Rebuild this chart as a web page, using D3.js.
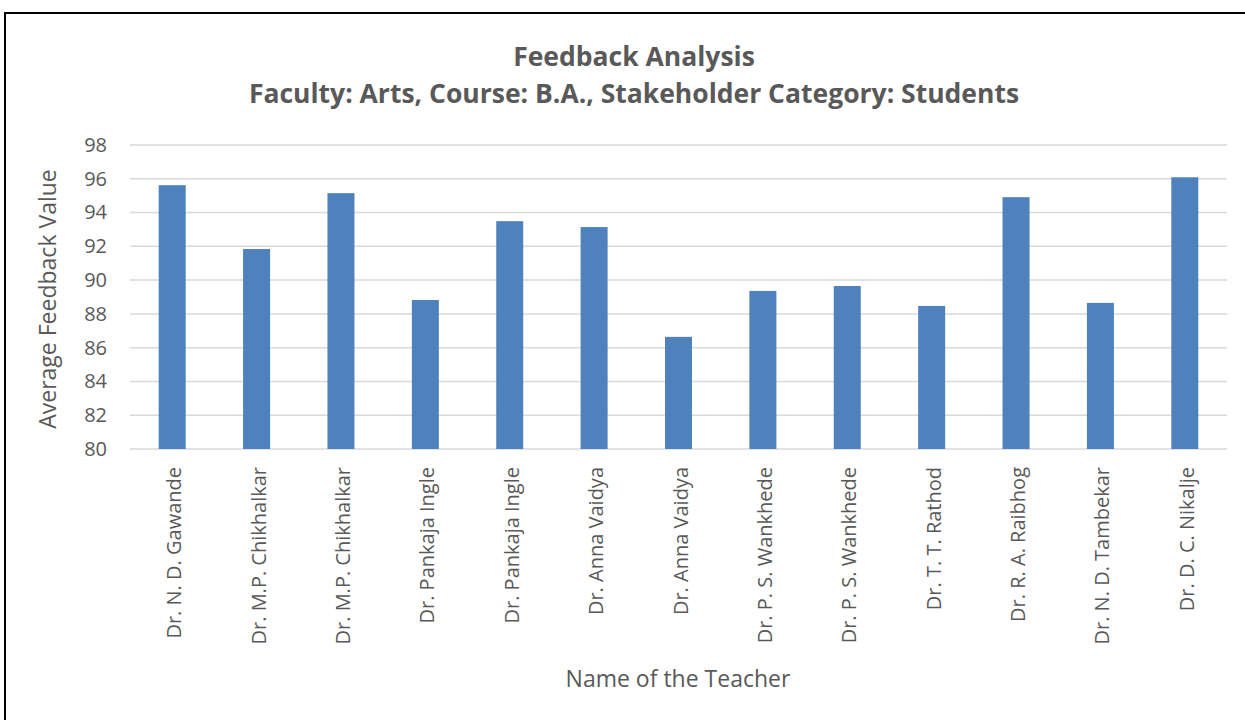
<!DOCTYPE html>
<html>
<head>
<meta charset="utf-8">
<script src="https://cdn.jsdelivr.net/npm/d3@7"></script>
<style>
  body { margin: 0; background: #fff; }
  text { font-family: "Open Sans", sans-serif; }
</style>
</head>
<body>
<div id="chart"></div>
<script>
var teachers = [
  "Dr. N. D. Gawande", "Dr. M.P. Chikhalkar", "Dr. M.P. Chikhalkar", "Dr. Pankaja Ingle",
  "Dr. Pankaja Ingle", "Dr. Anna Vaidya", "Dr. Anna Vaidya", "Dr. P. S. Wankhede",
  "Dr. P. S. Wankhede", "Dr. T. T. Rathod", "Dr. R. A. Raibhog", "Dr. N. D. Tambekar",
  "Dr. D. C. Nikalje"
];
var feedbackValues = [95.62, 91.84, 95.15, 88.82, 93.49, 93.14, 86.64, 89.36, 89.65, 88.47, 94.91, 88.65, 96.09];
var yTicks = [80, 82, 84, 86, 88, 90, 92, 94, 96, 98];

var W = 1245, H = 720;
var plotLeft = 130, plotRight = 1227, plotTop = 145, plotBottom = 449;

var svg = d3.select("#chart").append("svg").attr("width", W).attr("height", H);

// outer frame
svg.append("rect").attr("x", 5).attr("y", 13).attr("width", W + 20).attr("height", H + 20)
  .attr("fill", "none").attr("stroke", "#000").attr("stroke-width", 2);

var x = d3.scaleBand().domain(d3.range(teachers.length)).range([plotLeft, plotRight]).paddingInner(0.68).paddingOuter(0.34);
var y = d3.scaleLinear().domain([80, 98]).range([plotBottom, plotTop]);

// gridlines
svg.append("g").selectAll("line").data(yTicks).join("line")
  .attr("x1", plotLeft).attr("x2", plotRight)
  .attr("y1", function (d) { return y(d); }).attr("y2", function (d) { return y(d); })
  .attr("stroke", "#d9d9d9").attr("stroke-width", 1.5);

// bars
svg.append("g").selectAll("rect").data(feedbackValues).join("rect")
  .attr("x", function (d, i) { return x(i); })
  .attr("width", x.bandwidth())
  .attr("y", function (d) { return y(d); })
  .attr("height", function (d) { return y(80) - y(d); })
  .attr("fill", "#4f81bd");

// y axis
var yAxis = svg.append("g").attr("transform", "translate(" + plotLeft + ",0)")
  .call(d3.axisLeft(y).tickValues(yTicks).tickSize(0).tickPadding(23));
yAxis.select(".domain").remove();
yAxis.selectAll("text").attr("font-size", 20).attr("fill", "#595959").attr("font-family", "Open Sans");

// x axis
var xAxis = svg.append("g").attr("transform", "translate(0," + plotBottom + ")")
  .call(d3.axisBottom(x).tickFormat(function (i) { return teachers[i]; }).tickSize(0));
xAxis.select(".domain").remove();
xAxis.selectAll("text")
  .attr("font-size", 20).attr("fill", "#595959").attr("font-family", "Open Sans")
  .attr("transform", "rotate(-90)")
  .attr("text-anchor", "end")
  .attr("x", -18).attr("y", 2).attr("dy", "0.35em");

// titles
svg.append("text").attr("x", 634).attr("y", 66).attr("text-anchor", "middle")
  .attr("font-size", 26.5).attr("font-weight", "bold").attr("fill", "#595959")
  .text("Feedback Analysis");
svg.append("text").attr("x", 634).attr("y", 103).attr("text-anchor", "middle")
  .attr("font-size", 26.5).attr("font-weight", "bold").attr("fill", "#595959")
  .text("Faculty: Arts, Course: B.A., Stakeholder Category: Students");

svg.append("text").attr("transform", "translate(56,299) rotate(-90)").attr("text-anchor", "middle")
  .attr("font-size", 23).attr("fill", "#595959")
  .text("Average Feedback Value");

svg.append("text").attr("x", 678).attr("y", 687).attr("text-anchor", "middle")
  .attr("font-size", 23).attr("fill", "#595959")
  .text("Name of the Teacher");
</script>
</body>
</html>
